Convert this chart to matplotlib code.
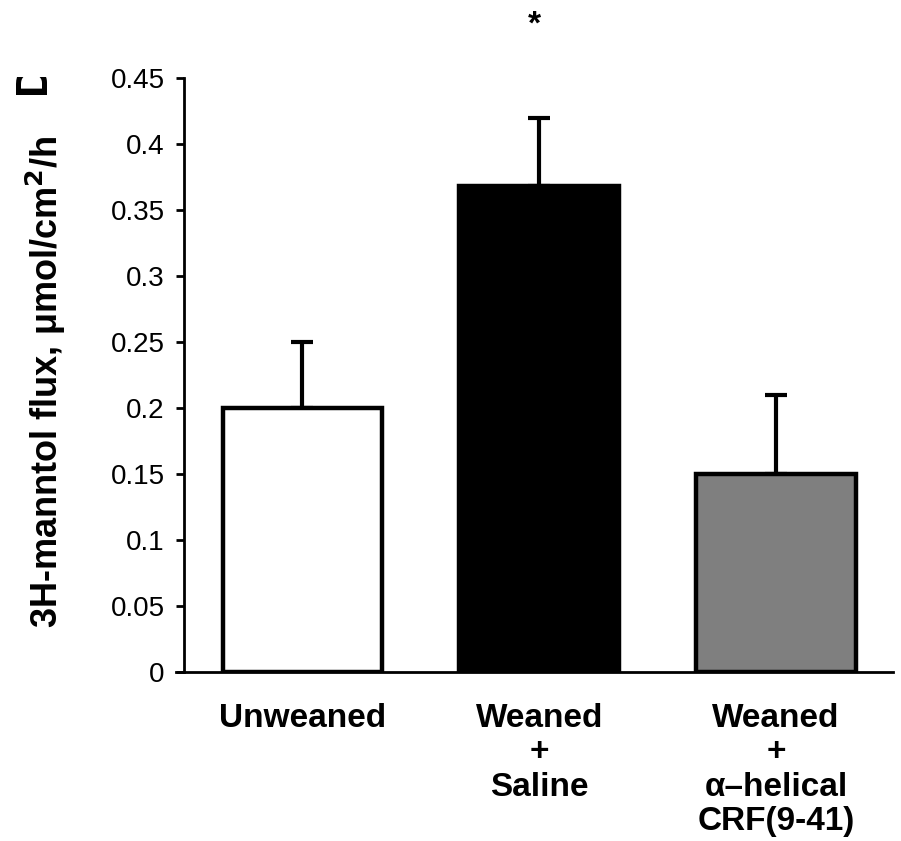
import numpy as np
import matplotlib.pyplot as plt
from matplotlib.patches import Rectangle

plt.rcParams['font.family'] = ['Liberation Sans', 'DejaVu Sans']

groups = ["Unweaned", "Weaned\n+\nSaline", "Weaned\n+\n\u03b1\u2013helical\nCRF(9-41)"]
flux = [0.20, 0.368, 0.15]
sem = [0.05, 0.052, 0.06]
colors = ["white", "black", "#7f7f7f"]

fig = plt.figure(figsize=(9.01, 8.41), dpi=100)
ax = fig.add_axes([176 / 901, 1 - 672 / 841, (893 - 176) / 901, (672 - 78) / 841])

x = np.arange(len(groups))
ax.bar(x, flux, width=0.675, color=colors, edgecolor="black", linewidth=3.2, zorder=2)
ax.errorbar(x, flux, yerr=[np.zeros(3), sem], fmt="none", ecolor="black",
            elinewidth=3, capsize=8, capthick=3, zorder=1)

ax.set_xlim(-0.534, 2.494)
ax.set_ylim(0, 0.45)
ax.spines['left'].set_position(('data', -0.5))
ax.spines['top'].set_visible(False)
ax.spines['right'].set_visible(False)
ax.spines['left'].set_linewidth(2)
ax.spines['bottom'].set_linewidth(2)

ax.set_yticks([0, 0.05, 0.1, 0.15, 0.2, 0.25, 0.3, 0.35, 0.4, 0.45])
ax.set_yticklabels(["0", "0.05", "0.1", "0.15", "0.2", "0.25", "0.3", "0.35", "0.4", "0.45"])
ax.tick_params(axis='y', length=6, width=2, labelsize=20, pad=8)
ax.set_xticks(x)
ax.set_xticklabels(groups, fontsize=24, fontweight='bold', linespacing=1.15)
ax.tick_params(axis='x', length=0, pad=22)

ax.set_ylabel("3H-manntol flux, \u03bcmol/cm$^\\mathbf{2}$/h", fontsize=26,
              fontweight='bold')
ax.yaxis.set_label_coords(-0.151, 0.489)

# significance marker above saline bar
ax.text(0.98, 0.49, "*", ha='center', va='center', fontsize=24, fontweight='bold',
        clip_on=False)

# panel letter, partly cut off
fig.text(34 / 901, 1 - 78 / 841, "D", rotation=90, ha='center', va='center',
         fontsize=32, fontweight='bold')
fig.patches.append(Rectangle((0, 1 - 77 / 841), 0.1, 77 / 841, transform=fig.transFigure,
                             facecolor='white', edgecolor='none', zorder=5))

fig.savefig("out.png", dpi=100)
